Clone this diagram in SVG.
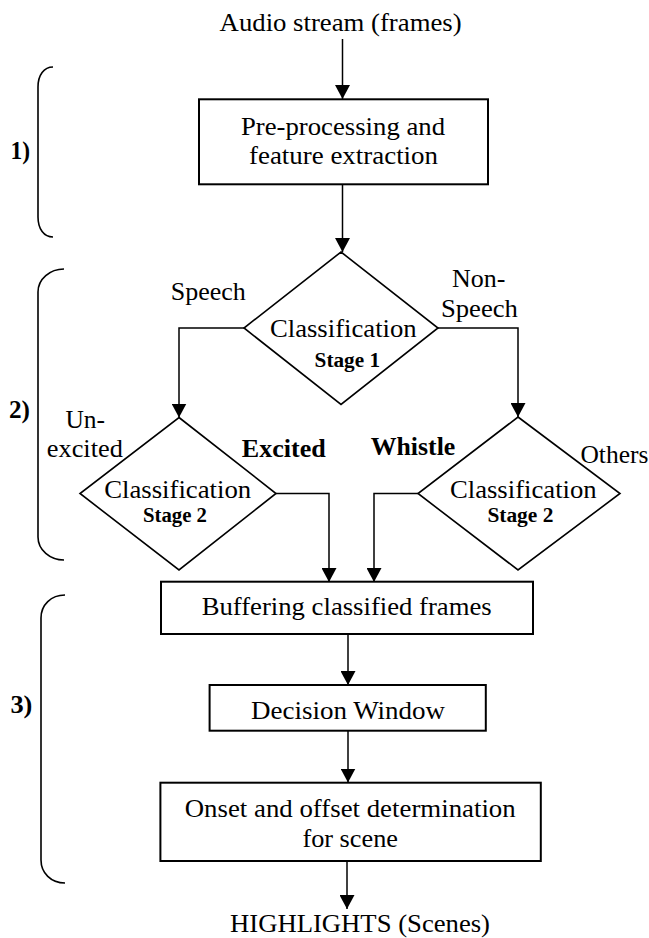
<svg xmlns="http://www.w3.org/2000/svg" width="649" height="938" viewBox="0 0 649 938">
<defs>
<style>
.t{font-size:26px;}
.m{text-anchor:middle;}
.b{font-weight:bold;}
.s{font-size:20px;font-weight:bold;text-anchor:middle;}
.box{fill:#fff;stroke:#000;stroke-width:2;}
.dia{fill:#fff;stroke:#000;stroke-width:1.6;}
.ln{fill:none;stroke:#000;stroke-width:1.5;}
.br{fill:none;stroke:#000;stroke-width:1.6;}
</style>
<marker id="ah" markerUnits="userSpaceOnUse" markerWidth="15" markerHeight="15" refX="14" refY="7.5" orient="auto" viewBox="0 0 15 15">
<path d="M0,0 L14,7.5 L0,15 z" fill="#000"/>
</marker>
</defs>
<rect width="649" height="938" fill="#fff"/>

<g id="connectors">
<line class="ln" x1="342.5" y1="39" x2="342.5" y2="99" marker-end="url(#ah)"/>
<line class="ln" x1="342.5" y1="184" x2="342.5" y2="252" marker-end="url(#ah)"/>
<polyline class="ln" points="244,328 179,328 179,417.5" marker-end="url(#ah)"/>
<polyline class="ln" points="438,328 518,328 518,417" marker-end="url(#ah)"/>
<polyline class="ln" points="276,493.5 329,493.5 329,582" marker-end="url(#ah)"/>
<polyline class="ln" points="418,493.5 374,493.5 374,582" marker-end="url(#ah)"/>
<line class="ln" x1="348" y1="634" x2="348" y2="685" marker-end="url(#ah)"/>
<line class="ln" x1="348" y1="731" x2="348" y2="782.5" marker-end="url(#ah)"/>
<line class="ln" x1="347" y1="861" x2="347" y2="909" marker-end="url(#ah)"/>
</g>

<g font-family="Liberation Serif, Tinos, Times New Roman, DejaVu Serif, serif" fill="#000">
<g id="input">
<text class="t m" x="340.6" y="30.7" textLength="242" lengthAdjust="spacingAndGlyphs">Audio stream (frames)</text>
</g>

<g id="preprocessing">
<rect class="box" x="199" y="99.3" width="289" height="85"/>
<text class="t m" x="343" y="135" textLength="204" lengthAdjust="spacingAndGlyphs">Pre-processing and</text>
<text class="t m" x="343.5" y="164" textLength="189" lengthAdjust="spacingAndGlyphs">feature extraction</text>
</g>

<g id="stage1">
<polygon class="dia" points="341,252 438,328 341,404.5 244,328"/>
<text class="t m" x="343.3" y="336.7" textLength="146.7" lengthAdjust="spacingAndGlyphs">Classification</text>
<text class="s" x="347.3" y="366.7" textLength="65.4" lengthAdjust="spacingAndGlyphs">Stage 1</text>
</g>

<g id="stage2-speech">
<polygon class="dia" points="179,417.5 276,493.5 179,570 80,493.5"/>
<text class="t m" x="177.7" y="498.3" textLength="147" lengthAdjust="spacingAndGlyphs">Classification</text>
<text class="s" x="175" y="521.7" textLength="64" lengthAdjust="spacingAndGlyphs">Stage 2</text>
</g>

<g id="stage2-nonspeech">
<polygon class="dia" points="518,417 620,493.5 518,570 418,493.5"/>
<text class="t m" x="523.3" y="498.3" textLength="146.7" lengthAdjust="spacingAndGlyphs">Classification</text>
<text class="s" x="520.4" y="521.7" textLength="66" lengthAdjust="spacingAndGlyphs">Stage 2</text>
</g>

<g id="labels">
<text class="t m" x="208.3" y="300" textLength="75" lengthAdjust="spacingAndGlyphs">Speech</text>
<text class="t m" x="478.7" y="286.7" textLength="53.4" lengthAdjust="spacingAndGlyphs">Non-</text>
<text class="t m" x="479.4" y="317.3" textLength="77" lengthAdjust="spacingAndGlyphs">Speech</text>
<text class="t m" x="85.2" y="428.3" textLength="39.6" lengthAdjust="spacingAndGlyphs">Un-</text>
<text class="t m" x="84.8" y="456.7" textLength="76" lengthAdjust="spacingAndGlyphs">excited</text>
<text class="t m b" x="283.8" y="456.7" textLength="84" lengthAdjust="spacingAndGlyphs">Excited</text>
<text class="t m b" x="413" y="455" textLength="84.6" lengthAdjust="spacingAndGlyphs">Whistle</text>
<text class="t" x="580.4" y="462.7" textLength="68" lengthAdjust="spacingAndGlyphs">Others</text>
</g>

<g id="buffering">
<rect class="box" x="161" y="581.7" width="372" height="52.3"/>
<text class="t m" x="346.7" y="615" textLength="290" lengthAdjust="spacingAndGlyphs">Buffering classified frames</text>
</g>

<g id="decision-window">
<rect class="box" x="209.6" y="685" width="276.2" height="45.7"/>
<text class="t m" x="348" y="719.3" textLength="194" lengthAdjust="spacingAndGlyphs">Decision Window</text>
</g>

<g id="onset-offset">
<rect class="box" x="160.4" y="782.7" width="380.4" height="78.3"/>
<text class="t m" x="350.2" y="817.3" textLength="331" lengthAdjust="spacingAndGlyphs">Onset and offset determination</text>
<text class="t m" x="350.2" y="846.7" textLength="95.5" lengthAdjust="spacingAndGlyphs">for scene</text>
</g>

<g id="output">
<text class="t m" x="360" y="931.7" textLength="260" lengthAdjust="spacingAndGlyphs">HIGHLIGHTS (Scenes)</text>
</g>

<g id="phase-1">
<path class="br" d="M53,67 C44,67 38,75 38,87 L38,217 C38,229 44,237 53,237"/>
<text class="t b" x="10.4" y="159" textLength="19.6" lengthAdjust="spacingAndGlyphs">1)</text>
</g>
<g id="phase-2">
<path class="br" d="M64,269 C50,269 38,279 38,292 L38,537 C38,550 50,560 64,560"/>
<text class="t b" x="9" y="418.3" textLength="21" lengthAdjust="spacingAndGlyphs">2)</text>
</g>
<g id="phase-3">
<path class="br" d="M65,595 C51,595 41,605 41,618 L41,860 C41,873 51,883 65,883"/>
<text class="t b" x="10.4" y="713.3" textLength="22" lengthAdjust="spacingAndGlyphs">3)</text>
</g>
</g>
</svg>
